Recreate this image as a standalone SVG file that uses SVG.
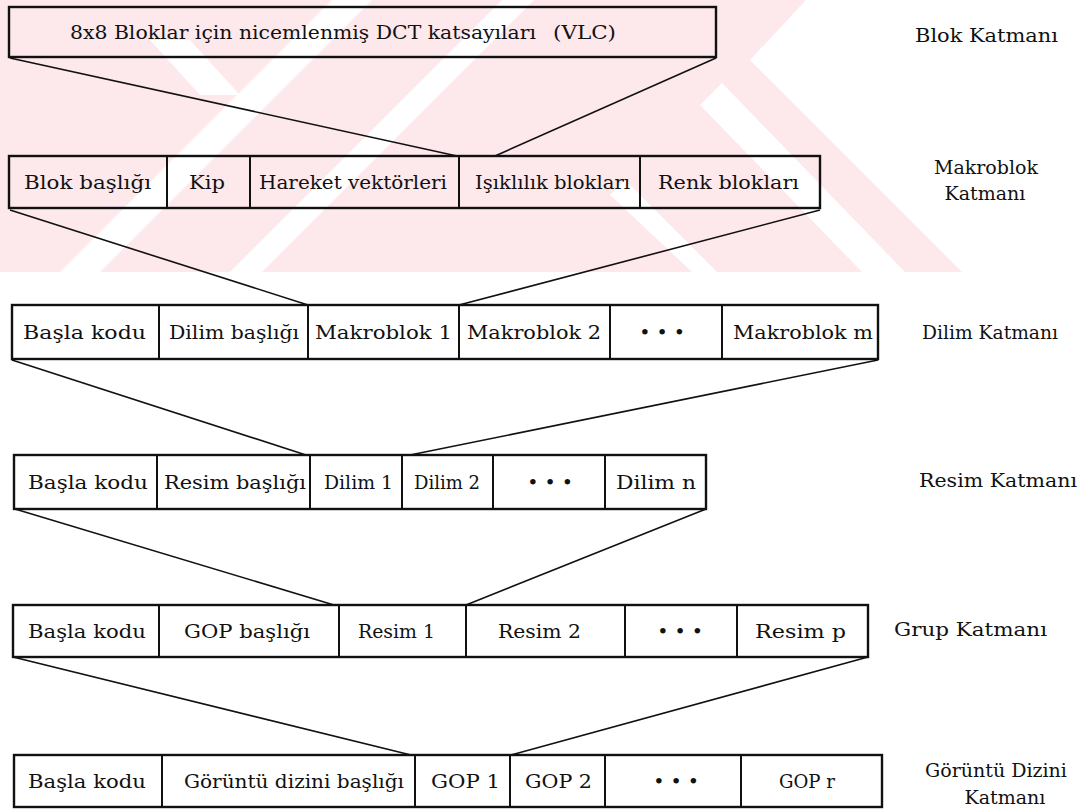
<svg xmlns="http://www.w3.org/2000/svg" width="1091" height="809" viewBox="0 0 1091 809">
  <defs>
    <style>
      .cell { fill: none; stroke: #111; stroke-width: 2.4; }
      .div { stroke: #111; stroke-width: 2; }
      .link { stroke: #111; stroke-width: 1.6; fill: none; }
      .t { font-family: "DejaVu Serif", "Liberation Serif", serif; font-size: 19px; fill: #111; }
      .c { text-anchor: middle; }
      .wm { fill: #fde8ec; }
      .wm2 { fill: #ffffff; }
    </style>
  </defs>

  <rect x="0" y="0" width="1091" height="809" fill="#ffffff"/>

  <!-- faint background emblem -->
  <g id="emblem">
    <polygon class="wm" points="0,0 806,0 750,60 962,272 0,272"/>
    <polygon class="wm2" points="700,105 722,83 905,272 862,272"/>
    <polygon class="wm2" points="610,195 625,180 717,272 692,272"/>
    <polygon class="wm2" points="60,272 100,272 372,0 332,0"/>
    <polygon class="wm2" points="230,272 262,272 534,0 502,0"/>
    <polygon class="wm2" points="150,40 190,40 240,95 200,95"/>
  </g>

  <!-- connectors between layers -->
  <g id="connectors">
    <line class="link" x1="10" y1="58" x2="457" y2="156"/>
    <line class="link" x1="716" y1="58" x2="495" y2="156"/>
    <line class="link" x1="10" y1="210" x2="308" y2="305"/>
    <line class="link" x1="820" y1="210" x2="459" y2="305"/>
    <line class="link" x1="12" y1="360" x2="306" y2="455"/>
    <line class="link" x1="878" y1="360" x2="410" y2="455"/>
    <line class="link" x1="15" y1="509" x2="334" y2="605"/>
    <line class="link" x1="706" y1="509" x2="466" y2="605"/>
    <line class="link" x1="13" y1="657" x2="411" y2="755"/>
    <line class="link" x1="868" y1="657" x2="511" y2="755"/>
  </g>

  <!-- block layer -->
  <g id="blok">
    <rect class="cell" x="9" y="7" width="707" height="50"/>
    <text class="t" x="70" y="39" textLength="466" lengthAdjust="spacingAndGlyphs">8x8 Bloklar için nicemlenmiş DCT katsayıları</text>
    <text class="t" x="553" y="39" textLength="63" lengthAdjust="spacingAndGlyphs">(VLC)</text>
  </g>
  <text id="lbl-blok" class="t" x="915" y="42" textLength="143" lengthAdjust="spacingAndGlyphs">Blok Katmanı</text>

  <!-- macroblock layer -->
  <g id="makroblok">
    <rect class="cell" x="9" y="156" width="811" height="52"/>
    <line class="div" x1="167" y1="156" x2="167" y2="208"/>
    <line class="div" x1="250" y1="156" x2="250" y2="208"/>
    <line class="div" x1="459" y1="156" x2="459" y2="208"/>
    <line class="div" x1="640" y1="156" x2="640" y2="208"/>
    <text class="t" x="24" y="189" textLength="127" lengthAdjust="spacingAndGlyphs">Blok başlığı</text>
    <text class="t" x="189" y="189" textLength="36" lengthAdjust="spacingAndGlyphs">Kip</text>
    <text class="t" x="259" y="189" textLength="188" lengthAdjust="spacingAndGlyphs">Hareket vektörleri</text>
    <text class="t" x="475" y="189" textLength="155" lengthAdjust="spacingAndGlyphs">Işıklılık blokları</text>
    <text class="t" x="658" y="189" textLength="141" lengthAdjust="spacingAndGlyphs">Renk blokları</text>
  </g>
  <text id="lbl-makroblok" class="t c" x="986"><tspan x="986" y="174">Makroblok</tspan><tspan x="985" y="200">Katmanı</tspan></text>

  <!-- slice layer -->
  <g id="dilim">
    <rect class="cell" x="12" y="305" width="866" height="54"/>
    <line class="div" x1="159" y1="305" x2="159" y2="359"/>
    <line class="div" x1="308" y1="305" x2="308" y2="359"/>
    <line class="div" x1="459" y1="305" x2="459" y2="359"/>
    <line class="div" x1="610" y1="305" x2="610" y2="359"/>
    <line class="div" x1="722" y1="305" x2="722" y2="359"/>
    <text class="t" x="23" y="339" textLength="123" lengthAdjust="spacingAndGlyphs">Başla kodu</text>
    <text class="t" x="169" y="339" textLength="130" lengthAdjust="spacingAndGlyphs">Dilim başlığı</text>
    <text class="t" x="315" y="339" textLength="137" lengthAdjust="spacingAndGlyphs">Makroblok 1</text>
    <text class="t" x="467" y="339" textLength="134" lengthAdjust="spacingAndGlyphs">Makroblok 2</text>
    <text class="t c" x="662" y="339">• • •</text>
    <text class="t" x="733" y="339" textLength="140" lengthAdjust="spacingAndGlyphs">Makroblok m</text>
  </g>
  <text id="lbl-dilim" class="t" x="922" y="339" textLength="136" lengthAdjust="spacingAndGlyphs">Dilim Katmanı</text>

  <!-- picture layer -->
  <g id="resim">
    <rect class="cell" x="14" y="455" width="692" height="54"/>
    <line class="div" x1="157" y1="455" x2="157" y2="509"/>
    <line class="div" x1="310" y1="455" x2="310" y2="509"/>
    <line class="div" x1="402" y1="455" x2="402" y2="509"/>
    <line class="div" x1="493" y1="455" x2="493" y2="509"/>
    <line class="div" x1="605" y1="455" x2="605" y2="509"/>
    <text class="t" x="28" y="489" textLength="120" lengthAdjust="spacingAndGlyphs">Başla kodu</text>
    <text class="t" x="164" y="489" textLength="142" lengthAdjust="spacingAndGlyphs">Resim başlığı</text>
    <text class="t" x="324" y="489" textLength="69" lengthAdjust="spacingAndGlyphs">Dilim 1</text>
    <text class="t" x="414" y="489" textLength="66" lengthAdjust="spacingAndGlyphs">Dilim 2</text>
    <text class="t c" x="550" y="489">• • •</text>
    <text class="t" x="616" y="489" textLength="80" lengthAdjust="spacingAndGlyphs">Dilim n</text>
  </g>
  <text id="lbl-resim" class="t" x="919" y="487" textLength="158" lengthAdjust="spacingAndGlyphs">Resim Katmanı</text>

  <!-- group layer -->
  <g id="grup">
    <rect class="cell" x="13" y="605" width="855" height="52"/>
    <line class="div" x1="159" y1="605" x2="159" y2="657"/>
    <line class="div" x1="339" y1="605" x2="339" y2="657"/>
    <line class="div" x1="466" y1="605" x2="466" y2="657"/>
    <line class="div" x1="625" y1="605" x2="625" y2="657"/>
    <line class="div" x1="737" y1="605" x2="737" y2="657"/>
    <text class="t" x="28" y="638" textLength="118" lengthAdjust="spacingAndGlyphs">Başla kodu</text>
    <text class="t" x="184" y="638" textLength="126" lengthAdjust="spacingAndGlyphs">GOP başlığı</text>
    <text class="t" x="358" y="638" textLength="77" lengthAdjust="spacingAndGlyphs">Resim 1</text>
    <text class="t" x="498" y="638" textLength="83" lengthAdjust="spacingAndGlyphs">Resim 2</text>
    <text class="t c" x="680" y="638">• • •</text>
    <text class="t" x="755" y="638" textLength="91" lengthAdjust="spacingAndGlyphs">Resim p</text>
  </g>
  <text id="lbl-grup" class="t" x="894" y="636" textLength="153" lengthAdjust="spacingAndGlyphs">Grup Katmanı</text>

  <!-- sequence layer -->
  <g id="goruntu">
    <rect class="cell" x="14" y="755" width="868" height="52"/>
    <line class="div" x1="162" y1="755" x2="162" y2="807"/>
    <line class="div" x1="415" y1="755" x2="415" y2="807"/>
    <line class="div" x1="510" y1="755" x2="510" y2="807"/>
    <line class="div" x1="605" y1="755" x2="605" y2="807"/>
    <line class="div" x1="741" y1="755" x2="741" y2="807"/>
    <text class="t" x="28" y="788" textLength="118" lengthAdjust="spacingAndGlyphs">Başla kodu</text>
    <text class="t" x="184" y="788" textLength="220" lengthAdjust="spacingAndGlyphs">Görüntü dizini başlığı</text>
    <text class="t" x="431" y="788" textLength="69" lengthAdjust="spacingAndGlyphs">GOP 1</text>
    <text class="t" x="525" y="788" textLength="67" lengthAdjust="spacingAndGlyphs">GOP 2</text>
    <text class="t c" x="676" y="788">• • •</text>
    <text class="t" x="779" y="788" textLength="56" lengthAdjust="spacingAndGlyphs">GOP r</text>
  </g>
  <text id="lbl-goruntu" class="t c" x="996"><tspan x="996" y="777">Görüntü Dizini</tspan><tspan x="1005" y="804">Katmanı</tspan></text>
</svg>
